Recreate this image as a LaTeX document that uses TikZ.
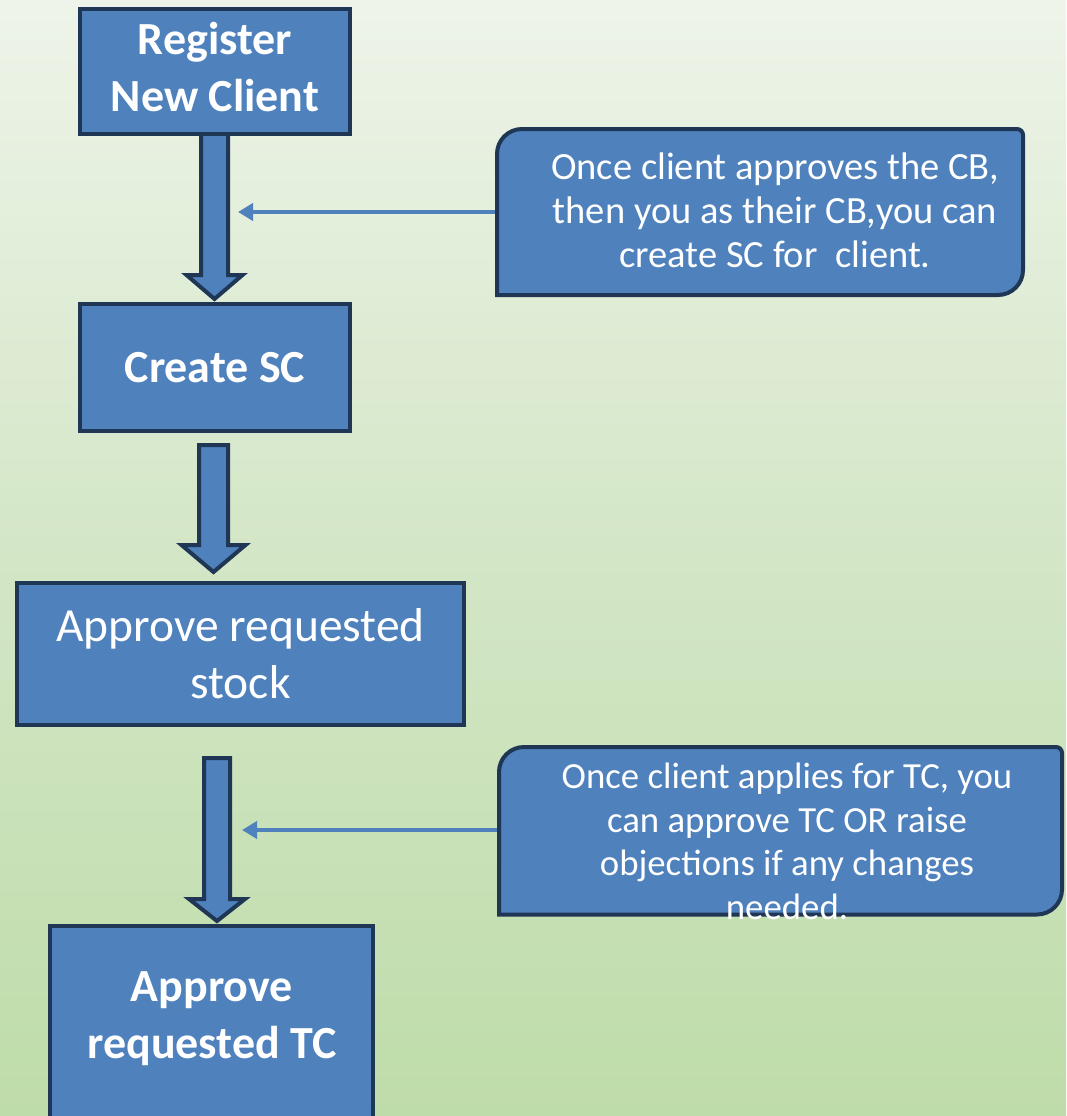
\documentclass[tikz,border=0pt]{standalone}
\usepackage{fontspec}
\setmainfont{Carlito}
\usetikzlibrary{arrows.meta,calc}
\definecolor{boxblue}{HTML}{4F81BD}
\definecolor{navy}{HTML}{1F3655}
\definecolor{bgtop}{HTML}{EEF4E9}
\definecolor{bgmid}{HTML}{D3E6C6}
\definecolor{bgbot}{HTML}{BEDCA9}
\newcommand\blockarrow[8]{%
  \draw[blockarrow] let \p1=(#1.south), \p2=(#3.north) in
    ({#5pt-#6pt},{\y1-(#2pt)}) -- ({#5pt-#6pt},{\y2+#4pt+#8pt}) -- ({#5pt-#7pt},{\y2+#4pt+#8pt})
    -- ({#5pt},{\y2+#4pt}) -- ({#5pt+#7pt},{\y2+#4pt+#8pt}) -- ({#5pt+#6pt},{\y2+#4pt+#8pt})
    -- ({#5pt+#6pt},{\y1-(#2pt)}) -- cycle;}
\begin{document}
\begin{tikzpicture}[x=1pt,y=1pt,
  box/.style={draw=navy, fill=boxblue, line width=4pt, inner sep=0pt},
  btext/.style={text=white, align=center, font=\fontsize{46}{57}\selectfont\bfseries},
  rtext/.style={text=white, align=center, font=\fontsize{47.5}{57}\selectfont},
  ctexta/.style={text=white, align=center, font=\fontsize{38.5}{44}\selectfont},
  ctextb/.style={text=white, align=center, font=\fontsize{36.8}{43.5}\selectfont},
  blockarrow/.style={draw=navy, fill=boxblue, line width=4pt, line join=miter},
  callout/.style={draw=navy, fill=boxblue, line width=4pt},
  anchorbox/.style={inner sep=0pt, outer sep=0pt},
  pointer/.style={draw=boxblue, line width=4.5pt, -{Triangle[length=15pt,width=17pt]}},
]
\useasboundingbox (0,0) rectangle (1066,-1116);
\shade[top color=bgtop, bottom color=bgbot, middle color=bgmid] (0,0) rectangle (1066,-1116);

% boxes
\path (215,-71.5) node[box, minimum width=270pt, minimum height=125pt] (b1) {};
\path (215,-367.5) node[box, minimum width=270pt, minimum height=127pt, btext] (b2) {Create SC};
\path (240.5,-654) node[box, minimum width=447pt, minimum height=142pt, rtext] (b3) {Approve requested\\stock};
\begin{scope}
\clip (0,0) rectangle (1066,-1116);
\path (211.5,-1036) node[box, minimum width=323pt, minimum height=220pt] (b4) {};
\end{scope}
\node[btext] (t4) at (212,-1019) {Approve\\requested TC};

% block arrows
\blockarrow{b1}{-6}{b2}{3}{214.5}{13.5}{28}{24}
\blockarrow{b2}{12}{b3}{9}{213.5}{14.5}{32}{27}
\blockarrow{b3}{31}{b4}{3}{217}{13}{28}{22}
% top box drawn over the first shaft
\path (215,-71.5) node[box, minimum width=270pt, minimum height=125pt] {};
\node[btext] (t1b) at (215,-67) {Register\\New Client};

% callout 1
\path[callout] (497,-295) -- (497,-154) arc[start angle=180,end angle=90,radius=25pt]
  -- (1017,-129) arc[start angle=90,end angle=0,radius=6pt]
  -- (1023,-270) arc[start angle=0,end angle=-90,radius=25pt] -- cycle;
\node[anchorbox, minimum width=530pt, minimum height=170pt] (c1) at (760,-212) {};
\node[ctexta] (t1) at (775,-210) {Once client approves the CB,\\then you as their CB,you can\\create SC for\ \ client.};

% callout 2
\path[callout] (499,-914.5) -- (499,-772) arc[start angle=180,end angle=90,radius=25pt]
  -- (1056,-747) arc[start angle=90,end angle=0,radius=6pt]
  -- (1062,-889.5) arc[start angle=0,end angle=-90,radius=25pt] -- cycle;
\node[anchorbox, minimum width=569pt, minimum height=170pt] (c2) at (781.5,-830) {};
\node[ctextb, anchor=south, inner sep=0pt, text depth=0pt] (t2) at (787,-919.5) {Once client applies for TC, you\\can approve TC OR raise\\objections if any changes\\needed.};

% pointers
\coordinate (p1) at (238,-212);
\coordinate (p2) at (242,-830);
\draw[pointer] (c1.west) -- (p1);
\draw[pointer] (c2.west) -- (p2);
\end{tikzpicture}
\end{document}
